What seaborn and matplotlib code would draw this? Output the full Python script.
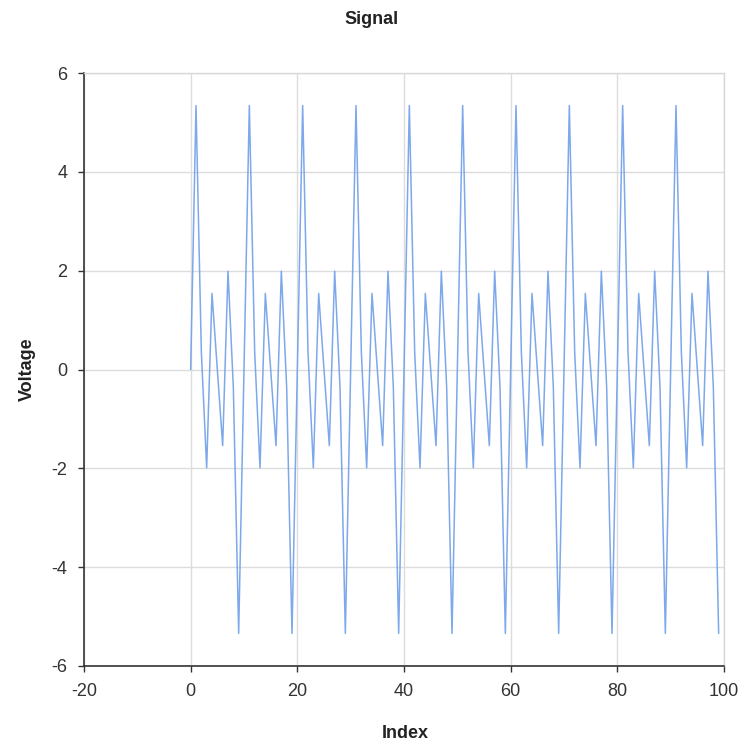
import matplotlib
matplotlib.use("Agg")
import matplotlib.pyplot as plt
import pandas as pd
import seaborn as sns

# Voltage samples, index 0..99
VOLTAGE = [
    0.00, 5.34, 0.36, -1.99, 1.54, 0.00, -1.54, 1.99, -0.36, -5.34,
    0.00, 5.34, 0.36, -1.99, 1.54, 0.00, -1.54, 1.99, -0.36, -5.34,
    0.00, 5.34, 0.36, -1.99, 1.54, 0.00, -1.54, 1.99, -0.36, -5.34,
    0.00, 5.34, 0.36, -1.99, 1.54, 0.00, -1.54, 1.99, -0.36, -5.34,
    0.00, 5.34, 0.36, -1.99, 1.54, 0.00, -1.54, 1.99, -0.36, -5.34,
    0.00, 5.34, 0.36, -1.99, 1.54, 0.00, -1.54, 1.99, -0.36, -5.34,
    0.00, 5.34, 0.36, -1.99, 1.54, 0.00, -1.54, 1.99, -0.36, -5.34,
    0.00, 5.34, 0.36, -1.99, 1.54, 0.00, -1.54, 1.99, -0.36, -5.34,
    0.00, 5.34, 0.36, -1.99, 1.54, 0.00, -1.54, 1.99, -0.36, -5.34,
    0.00, 5.34, 0.36, -1.99, 1.54, 0.00, -1.54, 1.99, -0.36, -5.34,
]
INDEX = list(range(len(VOLTAGE)))

X_TICKS = [-20, 0, 20, 40, 60, 80, 100]
Y_TICKS = [-6, -4, -2, 0, 2, 4, 6]


def main() -> None:
    sns.set_theme(style="whitegrid")
    plt.rcParams["font.family"] = ["Liberation Sans", "DejaVu Sans"]
    plt.rcParams["axes.unicode_minus"] = False

    df = pd.DataFrame({"Index": INDEX, "Voltage": VOLTAGE})

    fig = plt.figure(figsize=(7.48, 7.47), dpi=100)
    ax = fig.add_axes([84 / 748, 1 - 666 / 747, 640 / 748, 593 / 747])

    sns.lineplot(data=df, x="Index", y="Voltage", ax=ax,
                 color="#6f9fe8", linewidth=1.1, alpha=0.9)

    ax.set_xlim(-20, 100)
    ax.set_ylim(-6, 6)
    ax.set_xticks(X_TICKS)
    ax.set_yticks(Y_TICKS)
    ax.grid(True, color="#dcdcdc", linewidth=1.0)

    for side in ("top", "right"):
        ax.spines[side].set_color("#d8d8d8")
        ax.spines[side].set_linewidth(1.0)
    for side in ("left", "bottom"):
        ax.spines[side].set_color("#333333")
        ax.spines[side].set_linewidth(1.2)

    ax.tick_params(axis="both", which="major", direction="out", length=4,
                   width=1, color="#333333", labelsize=13,
                   labelcolor="#333333", bottom=True, left=True)
    ax.tick_params(axis="y", pad=8)
    ax.tick_params(axis="x", pad=8)

    ax.set_xlabel("Index", fontsize=13, fontweight="bold", color="#222222")
    ax.set_ylabel("Voltage", fontsize=13, fontweight="bold", color="#222222")
    ax.xaxis.set_label_coords((405 - 84) / 640, (666 - 733) / 593)
    ax.yaxis.set_label_coords((27 - 84) / 640, (666 - 369) / 593)
    ax.xaxis.label.set_va("center")
    ax.yaxis.label.set_va("center")
    fig.suptitle("Signal", x=372 / 748, y=1 - 20 / 747, va="center",
                 fontsize=13, fontweight="bold", color="#222222")

    fig.savefig("out.png", dpi=100, facecolor="white")
    plt.close(fig)


if __name__ == "__main__":
    main()
